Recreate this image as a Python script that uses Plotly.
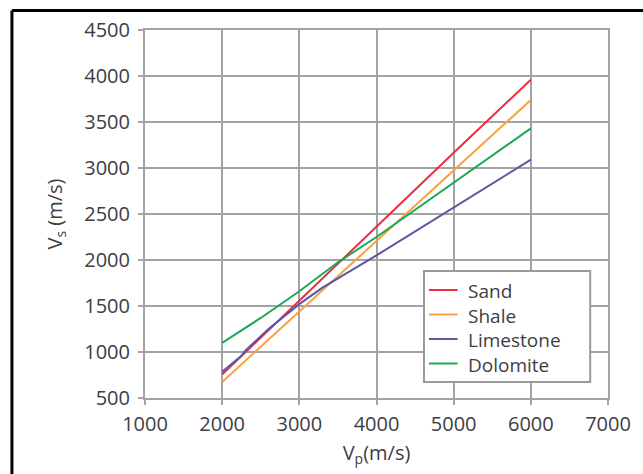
import plotly.graph_objects as go

# P-wave velocity (m/s) sample points for each lithology
vp_sand = [2000, 3000, 4000, 5000, 6000]
vs_sand = [755, 1560, 2360, 3165, 3960]

vp_shale = [2000, 3000, 4000, 5000, 6000]
vs_shale = [675, 1440, 2210, 2975, 3740]

vp_limestone = [2000, 2250, 2300, 2600, 3000, 3300, 4000, 4500, 5000, 5500, 6000]
vs_limestone = [785, 960, 1015, 1250, 1520, 1700, 2050, 2310, 2570, 2830, 3090]

vp_dolomite = [2000, 2300, 2500, 3000, 3500, 4000, 5000, 6000]
vs_dolomite = [1100, 1260, 1370, 1660, 1975, 2250, 2840, 3430]

series_names = ["Sand", "Shale", "Limestone", "Dolomite"]
series_colors = ["#e8303c", "#f9a03f", "#5b57a8", "#1ba955"]

x_ticks = [1000, 2000, 3000, 4000, 5000, 6000, 7000]
y_ticks = [500, 1000, 1500, 2000, 2500, 3000, 3500, 4000, 4500]

text_color = "#3d3d45"
grid_color = "#a3a3a3"
font_family = "'Open Sans', Lato, sans-serif"

# plot-area geometry in pixels (used to place frame and legend box)
W, H = 643, 474
L, R, T, B = 145, 30, 30, 76
PW, PH = W - L - R, H - T - B


def px(x):
    return (x - L) / PW


def py(y):
    return (H - B - y) / PH


fig = go.Figure()
for name, color, xs, ys in zip(
    series_names,
    series_colors,
    [vp_sand, vp_shale, vp_limestone, vp_dolomite],
    [vs_sand, vs_shale, vs_limestone, vs_dolomite],
):
    fig.add_trace(go.Scatter(x=xs, y=ys, mode="lines", name=name,
                             line=dict(color=color, width=2)))

axis_common = dict(
    showgrid=True, gridcolor=grid_color, gridwidth=2,
    showline=True, linecolor=grid_color, linewidth=2, mirror=True,
    ticks="outside", ticklen=5, tickwidth=2, tickcolor=grid_color,
    zeroline=False,
    tickfont=dict(family=font_family, size=20, color=text_color),
)

shapes = [
    # outer black frame (top and left edges)
    dict(type="line", xref="paper", yref="paper",
         x0=px(10.5), x1=px(660), y0=py(10.5), y1=py(10.5),
         line=dict(color="black", width=3)),
    dict(type="line", xref="paper", yref="paper",
         x0=px(10.5), x1=px(10.5), y0=py(10.5), y1=py(490),
         line=dict(color="black", width=3)),
    # legend box
    dict(type="rect", xref="paper", yref="paper",
         x0=px(427), x1=px(595), y0=py(271), y1=py(382),
         line=dict(color="#9a9a9a", width=2), fillcolor="white", layer="above"),
]

# legend swatches, one per series, with the names stacked in a single text block
row_y = [290, 314.5, 339, 363.5]
for color, ry in zip(series_colors, row_y):
    shapes.append(dict(type="line", xref="paper", yref="paper",
                       x0=px(432), x1=px(461), y0=py(ry), y1=py(ry),
                       line=dict(color=color, width=2), layer="above"))

annotations = [dict(
    xref="paper", yref="paper", x=px(470), y=py(sum(row_y) / len(row_y) + 1),
    xanchor="left", yanchor="middle", align="left",
    text="<br>".join(series_names), showarrow=False, borderpad=0,
    font=dict(family=font_family, size=19, color=text_color),
)]

fig.update_layout(
    width=W, height=H,
    margin=dict(l=L, r=R, t=T, b=B),
    paper_bgcolor="white", plot_bgcolor="white",
    showlegend=False,
    xaxis=dict(
        range=[1000, 7000], tickvals=x_ticks, ticklabelstandoff=2,
        title=dict(text="V<sub>p</sub>(m/s)", standoff=10,
                   font=dict(family=font_family, size=20, color=text_color)),
        **axis_common,
    ),
    yaxis=dict(
        range=[500, 4500], tickvals=y_ticks, ticklabelstandoff=4,
        title=dict(text="V<sub>s</sub> (m/s)", standoff=16,
                   font=dict(family=font_family, size=20, color=text_color)),
        **axis_common,
    ),
    shapes=shapes,
    annotations=annotations,
)

fig.write_html("out.html")
